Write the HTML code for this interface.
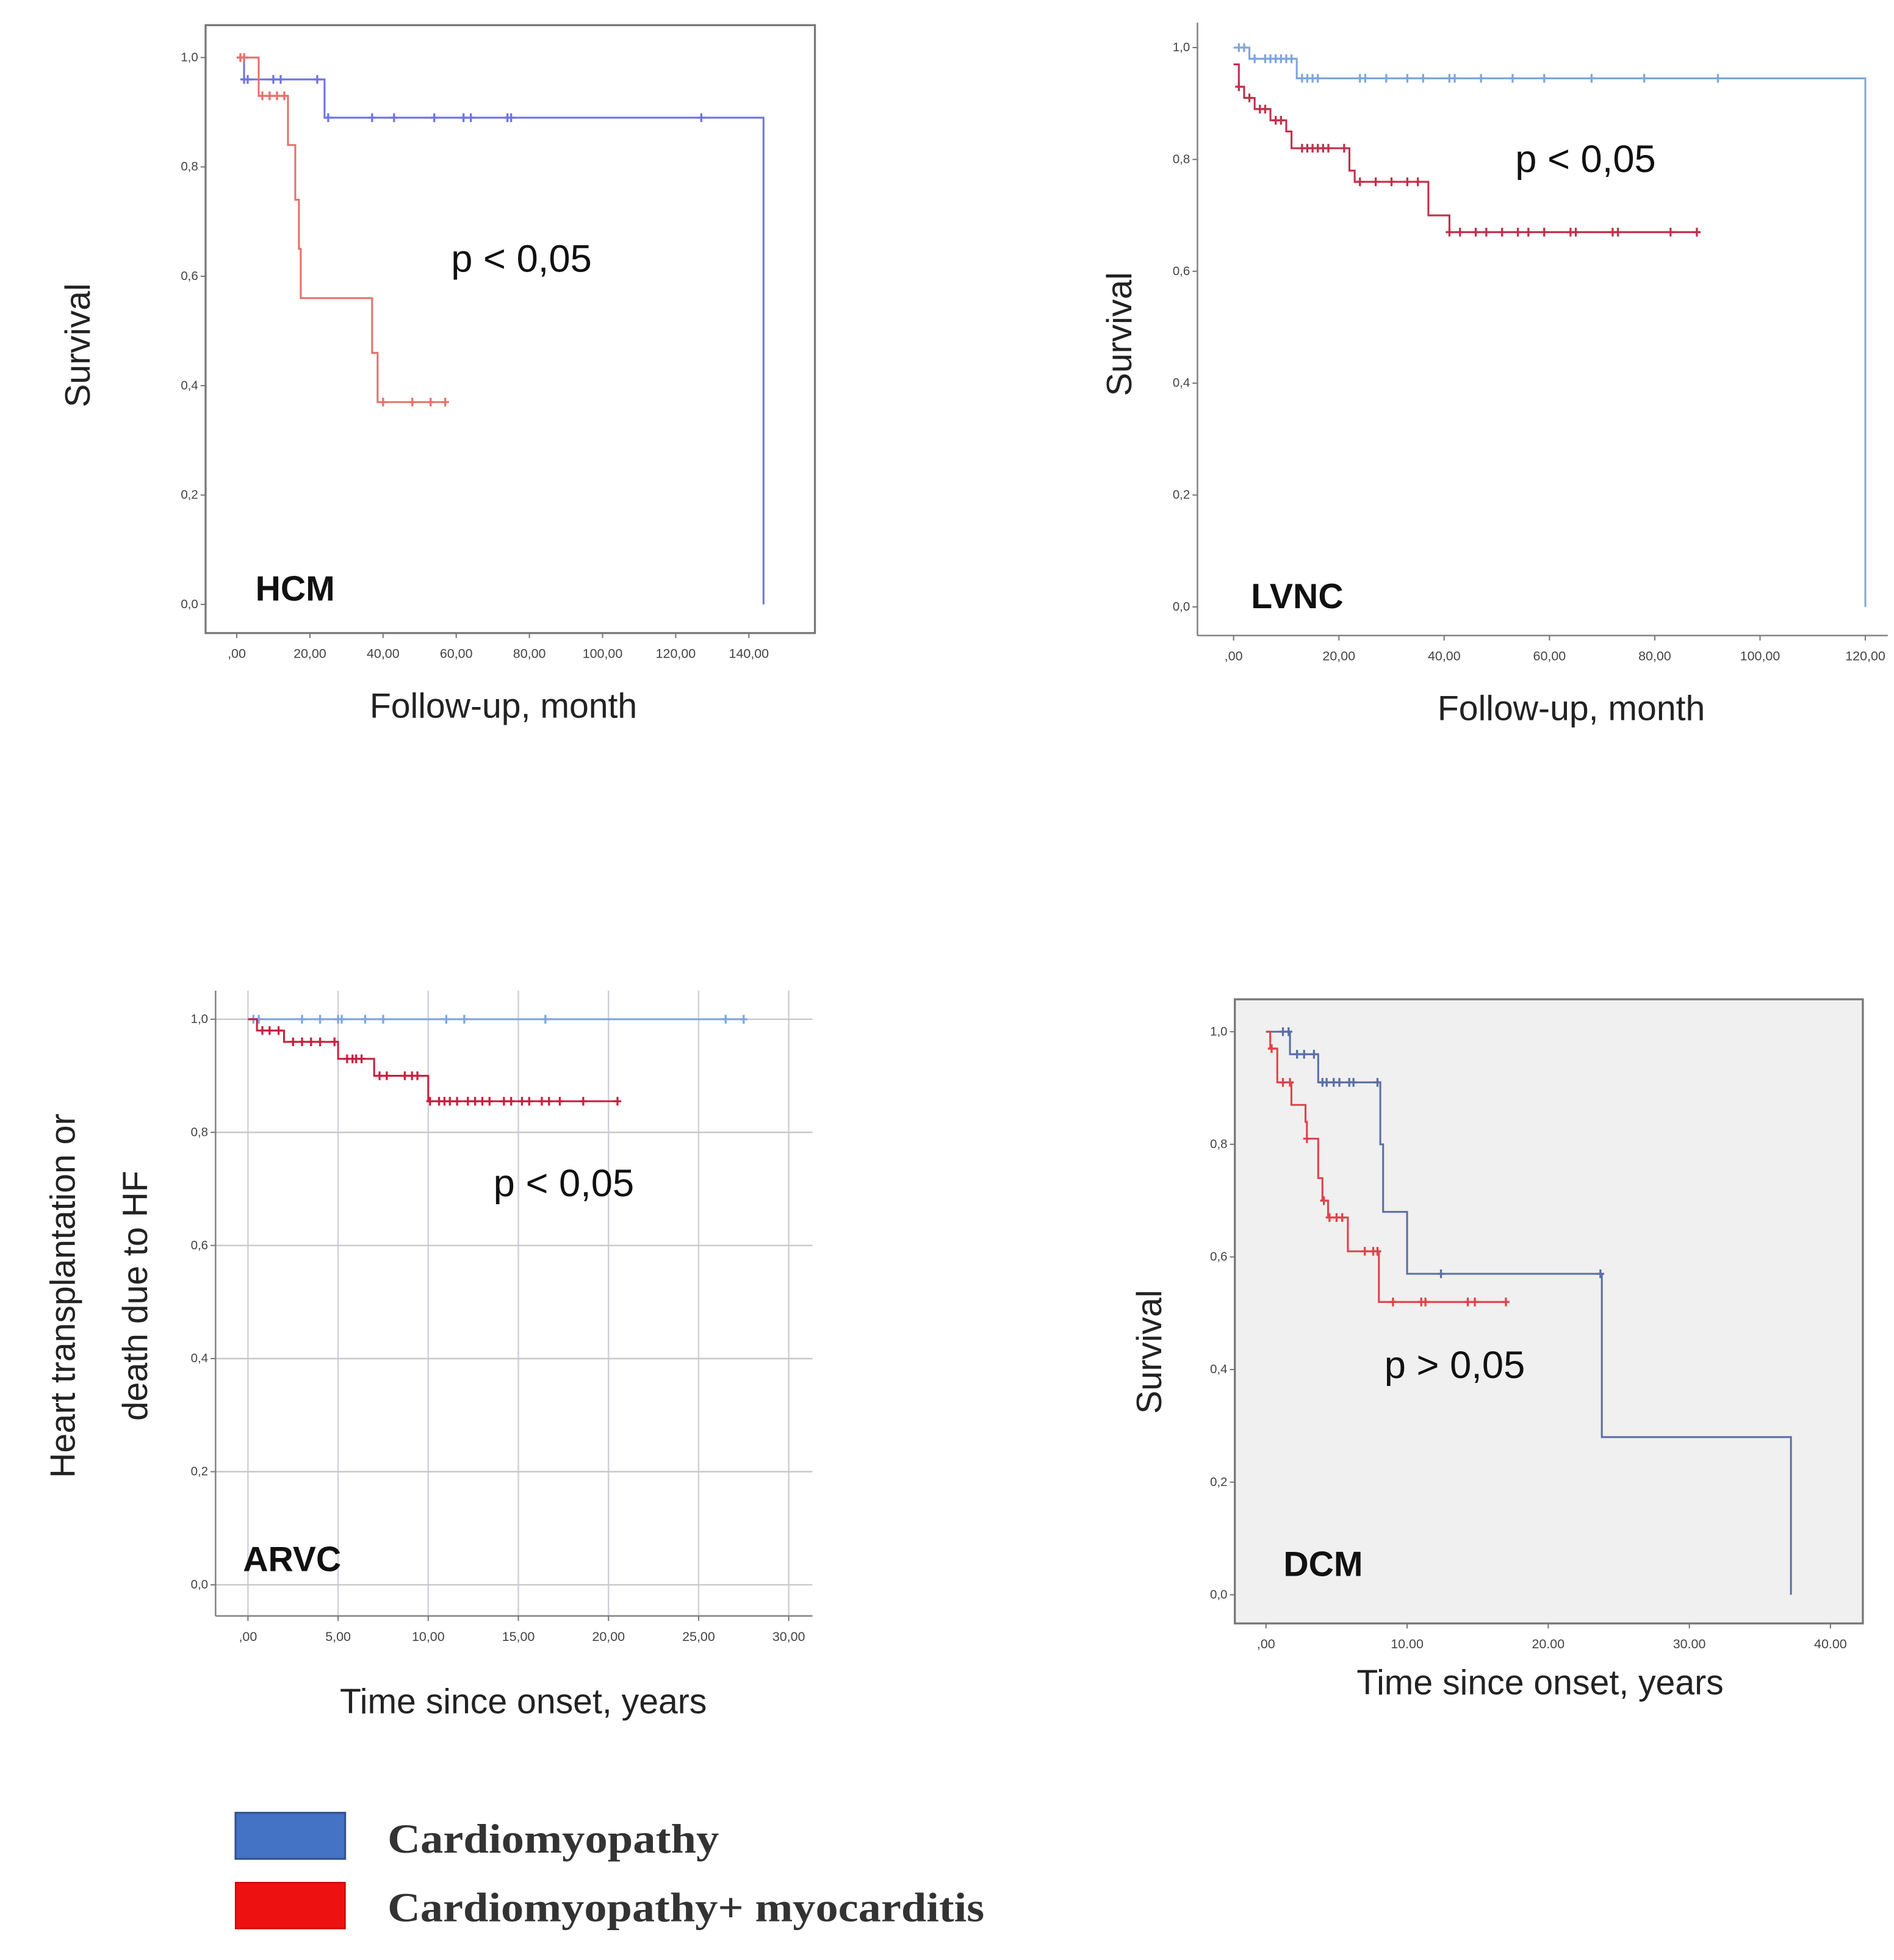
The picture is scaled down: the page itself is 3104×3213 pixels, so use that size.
<!DOCTYPE html>
<html><head><meta charset="utf-8"><style>
html,body{margin:0;padding:0;background:#fff;}
svg{display:block;}
text{font-family:"Liberation Sans",sans-serif;}
</style></head><body>
<svg id="fig" width="3104" height="3213" viewBox="0 0 1520 1573" xmlns="http://www.w3.org/2000/svg">
<g id="root"></g>
</svg>
<script>
// ---- data ----
const hcmBlueT=[0,2,24,144,144];
const hcmBlueS=[1.0,0.96,0.89,0.89,0.0];
const hcmBlueCens=[2,3,10,12,22,25,37,43,54,62,64,74,75,127];
const hcmRedT=[0,6,14,16,17,17.5,37,38.5,57];
const hcmRedS=[1.0,0.93,0.84,0.74,0.65,0.56,0.46,0.37,0.37];
const hcmRedCens=[1,2,7,9,11,13,40,48,53,57];

const lvncBlueT=[0,3,12,120,120];
const lvncBlueS=[1.0,0.98,0.945,0.945,0.0];
const lvncBlueCens=[1,2,4,6,7,8,9,10,11,13,14,15,16,24,25,29,33,36,41,42,47,53,59,68,78,92];
const lvncRedT=[0,1,2,4,7,10,11,12,22,23,37,41,88];
const lvncRedS=[0.97,0.93,0.91,0.89,0.87,0.85,0.82,0.82,0.78,0.76,0.70,0.67,0.67];
const lvncRedCens=[1,3,5,6,8,9,13,14,15,16,17,18,21,24,27,30,33,35,41,43,46,48,51,54,56,59,64,65,72,73,83,88];

const arvcBlueT=[0,27.5];
const arvcBlueS=[1.0,1.0];
const arvcBlueCens=[0.3,0.6,3,4,5,5.2,6.5,7.5,11,12,16.5,26.5,27.5];
const arvcRedT=[0,0.5,2,5,7,10,20.5];
const arvcRedS=[1.0,0.98,0.96,0.93,0.90,0.855,0.855];
const arvcRedCens=[0.8,1.2,1.7,2.5,3,3.5,4,4.8,5.5,5.8,6,6.3,7.3,7.7,8.7,9.1,9.4,10.1,10.6,10.9,11.2,11.6,12.2,12.6,13,13.4,14.2,14.6,15.2,15.6,16.3,16.7,17.3,18.6,20.5];

const dcmBlueT=[0,1.7,3.7,8,8.1,8.3,10,23.8,37.2,37.2];
const dcmBlueS=[1.0,0.96,0.91,0.91,0.8,0.68,0.57,0.28,0.28,0.0];
const dcmBlueCens=[1.2,1.6,2.2,2.7,3.4,4,4.3,4.8,5.2,5.9,6.2,7.9,12.4,23.7];
const dcmRedT=[0,0.3,0.8,1.8,2.8,2.9,3.7,4.0,4.4,5.8,8,17];
const dcmRedS=[1.0,0.97,0.91,0.87,0.84,0.81,0.74,0.70,0.67,0.61,0.52,0.52];
const dcmRedCens=[0.4,1.2,1.7,2.9,4.1,4.5,5,5.4,7,7.6,7.9,9,11,11.3,14.3,14.8,17];

const hcmTicks=[",00","20,00","40,00","60,00","80,00","100,00","120,00","140,00"];
const lvncTicks=[",00","20,00","40,00","60,00","80,00","100,00","120,00"];
const arvcTicks=[",00","5,00","10,00","15,00","20,00","25,00","30,00"];
const dcmTicks=[",00","10.00","20.00","30.00","40.00"];
const yTicks=["0,0","0,2","0,4","0,6","0,8","1,0"];

const NS="http://www.w3.org/2000/svg";
const root=document.getElementById('root');
function el(tag,attrs,parent){const e=document.createElementNS(NS,tag);for(const k in attrs)e.setAttribute(k,attrs[k]);(parent||root).appendChild(e);return e;}

function panel(cfg){
  const g=el('g',{});
  
  
  const X=v=>cfg.x0+(v-0)/cfg.xmax*(cfg.x1-cfg.x0);
  const Y=v=>cfg.y0+(1-v)*(cfg.y1-cfg.y0);
  if(cfg.bg){const r=el('rect',{x:cfg.fx0,y:cfg.fy0,width:cfg.fx1-cfg.fx0,height:cfg.fy1-cfg.fy0,fill:cfg.bg},g);
    }
  if(cfg.grid){
    cfg.ticks.forEach((t,i)=>{const v=i*cfg.xmax/(cfg.ticks.length-1);
      const l=el('line',{x1:X(v),x2:X(v),y1:cfg.fy0,y2:cfg.fy1,stroke:'#d0d0d8','stroke-width':1.2},g);
      });
    yTicks.forEach((t,i)=>{const v=i/5;
      const l=el('line',{x1:cfg.fx0,x2:cfg.fx1,y1:Y(v),y2:Y(v),stroke:'#c8c8c8','stroke-width':1.2},g);
      });
  }
  if(cfg.box){const r=el('rect',{x:cfg.fx0,y:cfg.fy0,width:cfg.fx1-cfg.fx0,height:cfg.fy1-cfg.fy0,fill:'none',stroke:'#777','stroke-width':1.6},g);
    }
  else{
    const a=el('line',{x1:cfg.fx0,x2:cfg.fx0,y1:cfg.fy0,y2:cfg.fy1,stroke:'#888','stroke-width':1.3},g);
    
    const b=el('line',{x1:cfg.fx0,x2:cfg.fx1,y1:cfg.fy1,y2:cfg.fy1,stroke:'#888','stroke-width':1.3},g);
    
  }
  yTicks.forEach((t,i)=>{const v=i/5;
    el('line',{x1:cfg.fx0-4,x2:cfg.fx0,y1:Y(v),y2:Y(v),stroke:'#777','stroke-width':1},g);
    const tx=el('text',{x:cfg.fx0-6,y:Y(v)+3,'text-anchor':'end','font-size':10,fill:'#444'},g);
    tx.textContent=t;});
  cfg.ticks.forEach((t,i)=>{const v=i*cfg.xmax/(cfg.ticks.length-1);
    el('line',{x1:X(v),x2:X(v),y1:cfg.fy1,y2:cfg.fy1+4,stroke:'#777','stroke-width':1},g);
    const tx=el('text',{x:X(v),y:cfg.fy1+20,'text-anchor':'middle','font-size':10.5,fill:'#444'},g);
    tx.textContent=t;});
  function curve(T,S,C,color,nm){
    let d='M'+X(T[0])+','+Y(S[0]);
    for(let i=1;i<T.length;i++){d+=' H'+X(T[i])+' V'+Y(S[i]);}
    const p=el('path',{d:d,fill:'none',stroke:color,'stroke-width':1.5},g);
    
    C.forEach(c=>{let s=S[0];for(let i=0;i<T.length;i++){if(T[i]<=c)s=S[i];}
      if(c>=T[T.length-1])s=S[S.length-2]!==undefined&&S[S.length-1]===0?S[S.length-2]:S[S.length-1];
      const m=el('path',{d:'M'+(X(c)-3)+','+Y(s)+' h6 M'+X(c)+','+(Y(s)-3.5)+' v7',stroke:color,'stroke-width':1.6,fill:'none'},g);
      });
  }
  curve(cfg.bT,cfg.bS,cfg.bC,cfg.blue,'cardiomyopathy');
  curve(cfg.rT,cfg.rS,cfg.rC,cfg.red,'myocarditis');
  const lab=el('text',{x:cfg.labX,y:cfg.labY,'font-size':28,'font-weight':'bold',fill:'#111'},g);
  lab.textContent=cfg.label;
  const pv=el('text',{x:cfg.pX,y:cfg.pY,'font-size':31,fill:'#111'},g);
  pv.textContent=cfg.p;
  const xt=el('text',{x:cfg.xtX,y:cfg.xtY,'text-anchor':'middle','font-size':28,fill:'#222'},g);
  xt.textContent=cfg.xtitle;
  cfg.ytitle.forEach((s,i)=>{
    const yt=el('text',{x:0,y:0,'text-anchor':'middle','font-size':28,fill:'#222',transform:'translate('+(cfg.ytX+i*cfg.ytDx)+','+cfg.ytY+') rotate(-90)'},g);
    yt.textContent=s;});
}

panel({name:'hcm',fx0:165,fx1:654,fy0:20,fy1:508,x0:190,x1:601,xmax:140,y0:46,y1:485,box:true,
  ticks:hcmTicks,bT:hcmBlueT,bS:hcmBlueS,bC:hcmBlueCens,rT:hcmRedT,rS:hcmRedS,rC:hcmRedCens,
  blue:'#6f73e6',red:'#e8706a',label:'HCM',labX:205,labY:482,p:'p < 0,05',pX:362,pY:218,
  xtitle:'Follow-up, month',xtX:404,xtY:576,ytitle:['Survival'],ytX:72,ytDx:0,ytY:277});
panel({name:'lvnc',fx0:961,fx1:1515,fy0:18,fy1:510,x0:990,x1:1497,xmax:120,y0:38,y1:487,box:false,
  ticks:lvncTicks,bT:lvncBlueT,bS:lvncBlueS,bC:lvncBlueCens,rT:lvncRedT,rS:lvncRedS,rC:lvncRedCens,
  blue:'#7ea6dc',red:'#c0304a',label:'LVNC',labX:1004,labY:488,p:'p < 0,05',pX:1216,pY:138,
  xtitle:'Follow-up, month',xtX:1261,xtY:578,ytitle:['Survival'],ytX:908,ytDx:0,ytY:268});
panel({name:'arvc',fx0:173,fx1:652,fy0:795,fy1:1297,x0:199,x1:633,xmax:30,y0:818,y1:1272,box:false,grid:true,
  ticks:arvcTicks,bT:arvcBlueT,bS:arvcBlueS,bC:arvcBlueCens,rT:arvcRedT,rS:arvcRedS,rC:arvcRedCens,
  blue:'#7ea6dc',red:'#c8203e',label:'ARVC',labX:195,labY:1261,p:'p < 0,05',pX:396,pY:960,
  xtitle:'Time since onset, years',xtX:420,xtY:1375,ytitle:['Heart transplantation or','death due to HF'],ytX:60,ytDx:58,ytY:1040});
panel({name:'dcm',fx0:991,fx1:1495,fy0:802,fy1:1303,x0:1016,x1:1469,xmax:40,y0:828,y1:1280,box:true,bg:'#f0f0f0',
  ticks:dcmTicks,bT:dcmBlueT,bS:dcmBlueS,bC:dcmBlueCens,rT:dcmRedT,rS:dcmRedS,rC:dcmRedCens,
  blue:'#5a6fa8',red:'#e0424a',label:'DCM',labX:1030,labY:1265,p:'p > 0,05',pX:1111,pY:1106,
  xtitle:'Time since onset, years',xtX:1236,xtY:1360,ytitle:['Survival'],ytX:932,ytDx:0,ytY:1085});

// legend
const lg=el('g',{});


const lb=el('rect',{x:189,y:1455,width:88,height:37,fill:'#4472c4',stroke:'#2f528f','stroke-width':1.5},lg);


const lr=el('rect',{x:189,y:1511,width:88,height:37,fill:'#ee1111',stroke:'#c00','stroke-width':1},lg);


const t1=el('text',{x:311,y:1487,'font-size':33,'font-weight':'bold',fill:'#333',textLength:266,lengthAdjust:'spacingAndGlyphs',style:'font-family:"Liberation Serif",serif'},lg);
t1.textContent='Cardiomyopathy';


const t2=el('text',{x:311,y:1542,'font-size':33,'font-weight':'bold',fill:'#333',textLength:479,lengthAdjust:'spacingAndGlyphs',style:'font-family:"Liberation Serif",serif'},lg);
t2.textContent='Cardiomyopathy+ myocarditis';


</script>
</body></html>
